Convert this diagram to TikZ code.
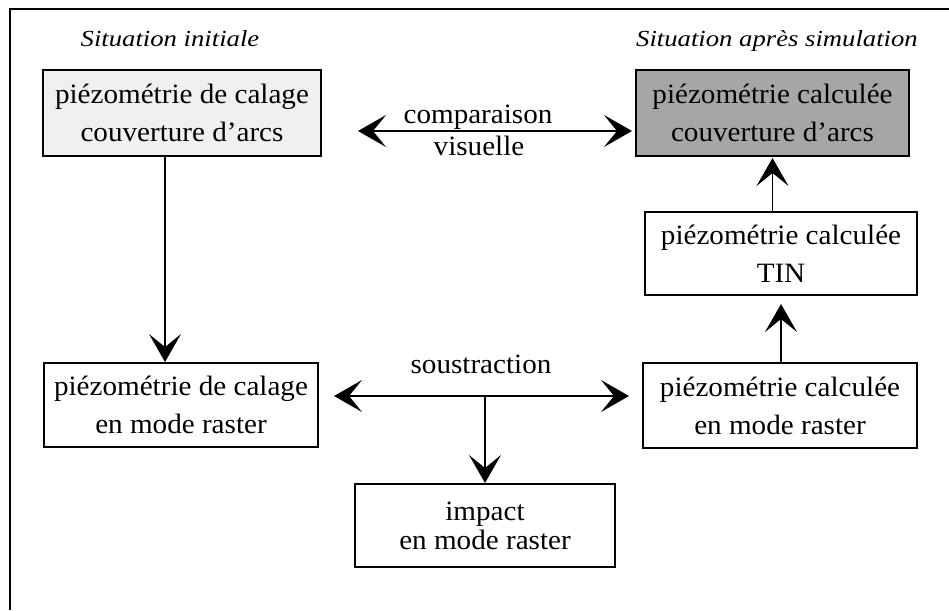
\documentclass[tikz,border=0pt]{standalone}
\usepackage{fontspec}
\setmainfont{Liberation Serif}[FakeStretch=1.04]
\newfontfamily\titlefont{Liberation Serif}[FakeStretch=1.16]
\usetikzlibrary{arrows.meta}
\tikzset{
  box/.style={draw=black, line width=2pt, rectangle, inner sep=0pt, align=center,
    font=\fontsize{28}{38}\selectfont},
  lbl/.style={inner sep=0pt, anchor=base, font=\fontsize{28}{32}\selectfont},
  ttl/.style={inner sep=0pt, anchor=base, font=\titlefont\fontsize{23}{28}\selectfont\itshape},
  conn/.style={line width=1.8pt, -{Stealth[length=28pt, width=32pt, inset=13pt]}},
  dconn/.style={line width=1.8pt, {Stealth[length=28pt, width=32pt, inset=13pt]}-{Stealth[length=28pt, width=32pt, inset=13pt]}}
}
\begin{document}
\begin{tikzpicture}[x=1pt,y=-1pt]
\useasboundingbox (0,0) rectangle (949,610);
\fill[white] (0,0) rectangle (949,610);
% frame (top and left only)
\draw[line width=2pt] (10,610) -- (10,9) -- (949,9);
% titles
\node[ttl] (t1) at (170,47) {Situation initiale};
\node[ttl] (t2) at (777,47) {Situation après simulation};
% boxes
\node[box, fill=black!6, minimum width=278pt, minimum height=86pt] (tl) at (182,113) {piézométrie de calage\\couverture d'arcs};
\node[box, fill=black!35, minimum width=273pt, minimum height=86pt] (gr) at (772.5,113) {piézométrie calculée\\couverture d'arcs};
\node[box, fill=white, minimum width=272pt, minimum height=83pt] (tin) at (781,253.5) {piézométrie calculée\\TIN};
\node[box, fill=white, minimum width=274pt, minimum height=84pt] (bl) at (181,405) {piézométrie de calage\\en mode raster};
\node[box, fill=white, minimum width=274pt, minimum height=85pt] (br) at (780,405.5) {piézométrie calculée\\en mode raster};
\node[box, fill=white, minimum width=260pt, minimum height=83pt, font=\fontsize{28}{29}\selectfont] (imp) at (485,525.5) {impact\\en mode raster};
% labels
\node[lbl] (c1) at (478,123) {comparaison};
\node[lbl] (c2) at (479,155) {visuelle};
\node[lbl] (s1) at (481,373) {soustraction};
% connectors
\draw[dconn, shorten <=36pt, shorten >=3pt] ([yshift=-18pt]tl.east) -- ([yshift=-18pt]gr.west);
\draw[conn] ([xshift=-17pt]tl.south) -- ([xshift=-17pt]tl.south |- bl.north);
\draw[conn, shorten >=1pt] (gr.south |- tin.north) -- (gr.south);
\draw[conn, shorten >=8pt] (tin.south |- br.north) -- (tin.south);
\coordinate (sy) at ([yshift=9pt]bl.east);
\draw[dconn, shorten <=15pt, shorten >=13pt] (sy) -- (sy -| br.west);
\draw[conn] (imp.north |- sy) -- (imp.north);
\end{tikzpicture}
\end{document}
